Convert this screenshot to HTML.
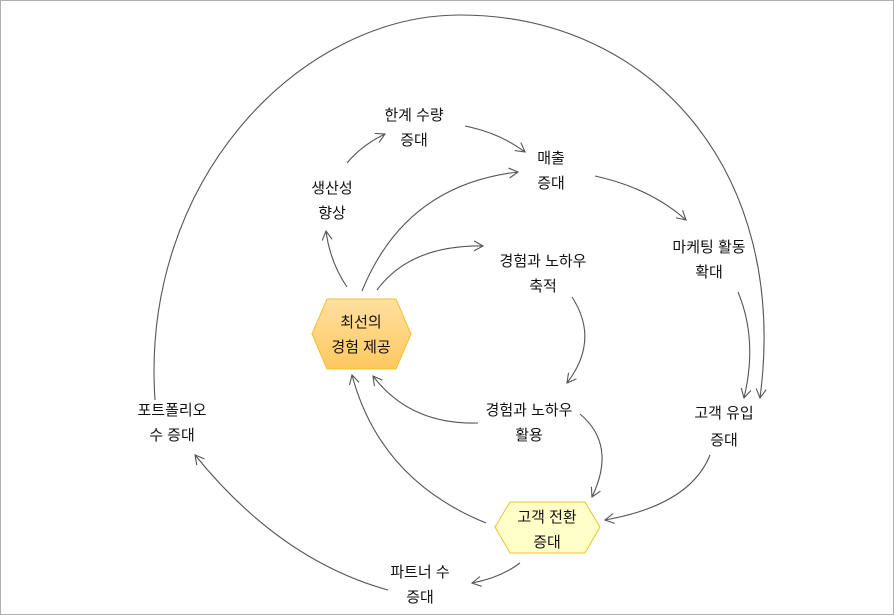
<!DOCTYPE html>
<html><head><meta charset="utf-8"><style>
html,body{margin:0;padding:0;background:#fff}
svg{display:block}
text{font-family:"Liberation Sans","Noto Sans CJK KR","NanumGothic",sans-serif;font-size:15px;fill:#111;text-anchor:middle}
.c{fill:none;stroke:#555;stroke-width:1.1}
</style></head><body>
<svg width="894" height="615" viewBox="0 0 894 615" xmlns="http://www.w3.org/2000/svg">
<defs>
<marker id="a" markerWidth="12" markerHeight="12" refX="10" refY="6" orient="auto" markerUnits="userSpaceOnUse">
<path d="M1,1 L10,6 L1,11" fill="none" stroke="#555" stroke-width="1.1"/>
</marker>
<linearGradient id="g1" x1="0" y1="0" x2="0" y2="1"><stop offset="0" stop-color="#ffe0a0"/><stop offset="1" stop-color="#ffc860"/></linearGradient>
</defs>
<rect x="0.5" y="0.5" width="893" height="614" fill="#fff" stroke="#b0b0b0"/>
<polygon points="312,334 327,299 396,299 411,334 396,369 327,369" fill="url(#g1)" stroke="#f0c030"/>
<polygon points="495,527 510,502 585,502 600,527 585,553 510,553" fill="#ffffc8" stroke="#f0c030"/>
<g class="c">
<path d="M347,163 Q362,145 385,134" marker-end="url(#a)"/>
<path d="M465,126 Q500,133 525,152" marker-end="url(#a)"/>
<path d="M595,176 Q650,188 686,220" marker-end="url(#a)"/>
<path d="M738,292 Q758,340 744,398" marker-end="url(#a)"/>
<path d="M155,400 C140,180 300,15 460,15 C650,15 790,170 760,398" marker-end="url(#a)"/>
<path d="M710,455 Q690,505 605,520" marker-end="url(#a)"/>
<path d="M520,563 Q500,578 472,583" marker-end="url(#a)"/>
<path d="M388,590 Q280,560 195,455" marker-end="url(#a)"/>
<path d="M486,523 Q380,480 352,375" marker-end="url(#a)"/>
<path d="M478,423 Q410,425 373,376" marker-end="url(#a)"/>
<path d="M572,297 Q600,340 567,383" marker-end="url(#a)"/>
<path d="M580,414 Q617,445 592,497" marker-end="url(#a)"/>
<path d="M347,287 Q330,262 326,231" marker-end="url(#a)"/>
<path d="M362,291 Q405,185 518,172" marker-end="url(#a)"/>
<path d="M377,290 Q410,245 483,246" marker-end="url(#a)"/>
</g>
<text x="414" y="120">한계 수량</text><text x="414" y="145">증대</text>
<text x="551" y="163">매출</text><text x="551" y="188">증대</text>
<text x="332" y="193">생산성</text><text x="332" y="218">향상</text>
<text x="543" y="266">경험과 노하우</text><text x="543" y="291">축적</text>
<text x="709" y="252">마케팅 활동</text><text x="709" y="277">확대</text>
<text x="361" y="327">최선의</text><text x="361" y="352">경험 제공</text>
<text x="172" y="415">포트폴리오</text><text x="172" y="440">수 증대</text>
<text x="529" y="415">경험과 노하우</text><text x="529" y="440">활용</text>
<text x="724" y="418">고객 유입</text><text x="724" y="445">증대</text>
<text x="547" y="522">고객 전환</text><text x="547" y="547">증대</text>
<text x="420" y="577">파트너 수</text><text x="420" y="602">증대</text>
</svg>
</body></html>
